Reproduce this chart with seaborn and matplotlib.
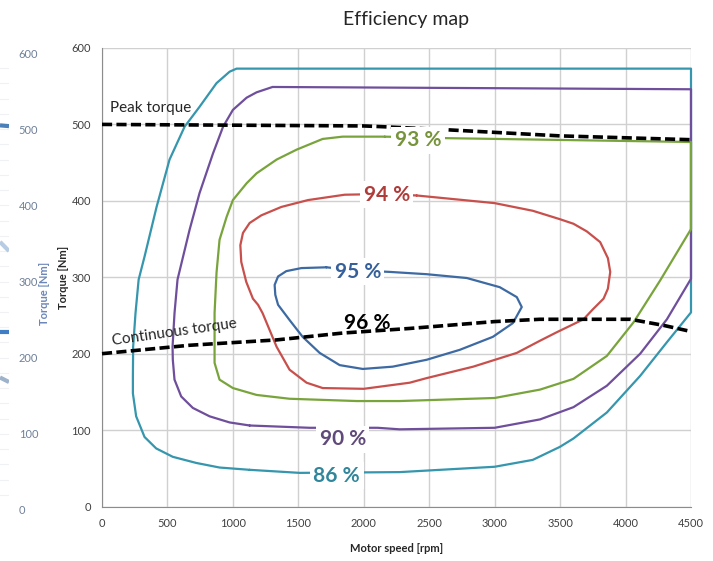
import numpy as np
import pandas as pd
import matplotlib
matplotlib.use('Agg')
import matplotlib.pyplot as plt
import seaborn as sns

sns.set_style('white')
plt.rcParams['font.family'] = ['Lato', 'DejaVu Sans']

# efficiency contours (rpm, Nm)
rpm_86 = [1128, 1510, 2274, 3000, 3291, 3498, 3602, 3857, 4112, 4316, 4500, 4500, 1028, 975, 875, 745, 631, 516, 417, 325, 280, 256, 238, 236, 236, 261, 325, 414, 541, 720, 898, 1128]
nm_86 = [48, 44, 45, 52, 61, 78, 89, 123, 171, 215, 254, 573, 573, 569, 554, 523, 497, 454, 392, 327, 297, 253, 209, 170, 148, 118, 91, 76, 65, 57, 51, 48]

rpm_90 = [1128, 1587, 2106, 2274, 3000, 3347, 3602, 3857, 4112, 4316, 4500, 4500, 1303, 1181, 1105, 1000, 925, 848, 745, 669, 577, 554, 539, 541, 554, 605, 694, 822, 975, 1128]
nm_90 = [106, 103, 103, 101, 103, 114, 130, 158, 200, 245, 298, 546, 549, 542, 535, 519, 497, 462, 410, 362, 297, 253, 209, 192, 166, 144, 129, 118, 110, 106]

rpm_93 = [2160, 1839, 1686, 1487, 1334, 1181, 1105, 1000, 952, 898, 875, 860, 860, 898, 1000, 1181, 1433, 1946, 2274, 3000, 3347, 3602, 3857, 4061, 4265, 4500, 4500, 2642, 2400, 2160]
nm_93 = [484, 484, 481, 467, 454, 436, 423, 401, 379, 349, 306, 253, 188, 166, 155, 146, 141, 138, 138, 142, 153, 167, 197, 241, 296, 363, 477, 482, 483, 484]

rpm_94 = [2404, 3000, 3291, 3498, 3602, 3704, 3806, 3865, 3883, 3865, 3832, 3750, 3679, 3474, 3347, 3169, 2836, 2480, 2351, 2000, 1686, 1563, 1433, 1334, 1227, 1192, 1153, 1102, 1064, 1057, 1077, 1128, 1217, 1370, 1574, 1854, 2160, 2404]
nm_94 = [407, 397, 387, 376, 370, 360, 346, 325, 307, 285, 272, 258, 245, 228, 217, 201, 183, 168, 162, 154, 155, 162, 179, 209, 253, 264, 272, 294, 320, 342, 358, 371, 381, 392, 401, 408, 409, 407]

rpm_95 = [1714, 1523, 1408, 1345, 1319, 1324, 1345, 1433, 1533, 1663, 1816, 1992, 2221, 2480, 2733, 2986, 3139, 3207, 3169, 3039, 2787, 2480, 2198, 1954, 1714]
nm_95 = [313, 312, 308, 301, 290, 277, 264, 244, 222, 201, 185, 180, 183, 192, 205, 222, 240, 261, 274, 287, 299, 304, 307, 309, 313]

# torque limits
peak_rpm = [0, 1000, 2000, 2145, 2633, 3498, 4500]
peak_nm = [500, 499, 498, 497, 493, 485, 480]
cont_rpm = [0, 669, 1334, 1839, 2351, 3000, 3347, 4036, 4291, 4500]
cont_nm = [200, 211, 218, 227, 233, 242, 245, 245, 237, 229]

# contour labels
label_text = ['86 %', '90 %', '93 %', '94 %', '95 %']
label_rpm = [1793, 1839, 2413, 2175, 1954]
label_nm = [40, 88, 479, 408, 307]

x_ticks = [0, 500, 1000, 1500, 2000, 2500, 3000, 3500, 4000, 4500]
y_ticks = [0, 100, 200, 300, 400, 500, 600]

# leftovers of a second chart on the left edge
ghost_ticks = [0, 100, 200, 300, 400, 500, 600]
ghost_grid = list(range(20, 600, 20))
ghost_stub_y0 = [505, 352, 234, 174]
ghost_stub_y1 = [504, 340, 234, 168]
ghost_stub_col = ['#4a7fb8', '#b7cbe3', '#3f7dc4', '#9fb2cc']

line_cols = ['#3596ad', '#6f4f9c', '#79a43c', '#c8504c', '#3d6aa2']
text_cols = ['#31869b', '#604a7b', '#77933c', '#b03c3a', '#36609a']

W, H = 713, 561
fig = plt.figure(figsize=(W / 100, H / 100), dpi=100)
ax = fig.add_axes([102 / W, 1 - 506.5 / H, (691 - 102) / W, (506.5 - 48) / H])

curves = [(rpm_86, nm_86), (rpm_90, nm_90), (rpm_93, nm_93), (rpm_94, nm_94), (rpm_95, nm_95)]
for (xs, ys), col in zip(curves, line_cols):
    df = pd.DataFrame({'rpm': xs, 'nm': ys})
    sns.lineplot(data=df, x='rpm', y='nm', sort=False, estimator=None, color=col,
                 lw=1.6, ax=ax, clip_on=False, zorder=3)

for xs, ys in [(peak_rpm, peak_nm), (cont_rpm, cont_nm)]:
    df = pd.DataFrame({'rpm': xs, 'nm': ys})
    sns.lineplot(data=df, x='rpm', y='nm', sort=False, estimator=None, color='black',
                 lw=2.6, ls=(0, (2.8, 1.2)), ax=ax, clip_on=False, zorder=4)

for t, x, y, c in zip(label_text, label_rpm, label_nm, text_cols):
    ax.text(x, y, t, color=c, fontsize=15, fontweight='bold', ha='center', va='center', zorder=6,
            bbox=dict(facecolor='white', edgecolor='none', pad=2.5))
ax.text(2030, 240, '96 %', color='black', fontsize=15, fontweight='bold', ha='center', va='center', zorder=6)

ax.text(60, 522, 'Peak torque', fontsize=11, ha='left', va='center', zorder=6)
ax.text(555, 228, 'Continuous torque', fontsize=11, ha='center', va='center', rotation=8, zorder=6)

ax.set_xlim(0, 4500)
ax.set_ylim(0, 600)
ax.set_xticks(x_ticks)
ax.set_yticks(y_ticks)
ax.grid(True, color='#d0d0d0', lw=1)
ax.set_axisbelow(True)
for s in ['top', 'right']:
    ax.spines[s].set_visible(False)
for s in ['left', 'bottom']:
    ax.spines[s].set_color('#8c8c8c')
ax.tick_params(direction='inout', length=6, color='#8c8c8c', labelsize=8, labelcolor='#404040', pad=5)
ax.set_xlabel('Motor speed [rpm]', fontsize=8, fontweight='bold', labelpad=10)
ax.set_ylabel('Torque [Nm]', fontsize=8, fontweight='bold')
ax.yaxis.set_label_coords((69 - 102) / 589, 0.5)

fig.text(406 / W, 1 - 20 / H, 'Efficiency map', fontsize=14, ha='center', va='center')

# ghost axis on the far left
gax = fig.add_axes([0, 1 - 510 / H, 9 / W, (510 - 53) / H])
gax.set_xlim(0, 1)
gax.set_ylim(0, 600)
for g in ghost_grid:
    gax.plot([0, 1], [g, g], color='#f0f1f4', lw=0.8)
for y0, y1, c in zip(ghost_stub_y0, ghost_stub_y1, ghost_stub_col):
    gax.plot([0, 1], [y0, y1], color=c, lw=3, solid_capstyle='butt')
gax.yaxis.tick_right()
gax.set_yticks(ghost_ticks)
gax.set_xticks([])
gax.tick_params(length=0, labelsize=8, labelcolor='#6f8098', pad=7)
for s in gax.spines.values():
    s.set_visible(False)
fig.text(45 / W, 1 - 293 / H, 'Torque [Nm]', rotation=90, fontsize=8, fontweight='bold',
         color='#6b86b8', ha='center', va='center')

fig.savefig('out.png', dpi=100)
